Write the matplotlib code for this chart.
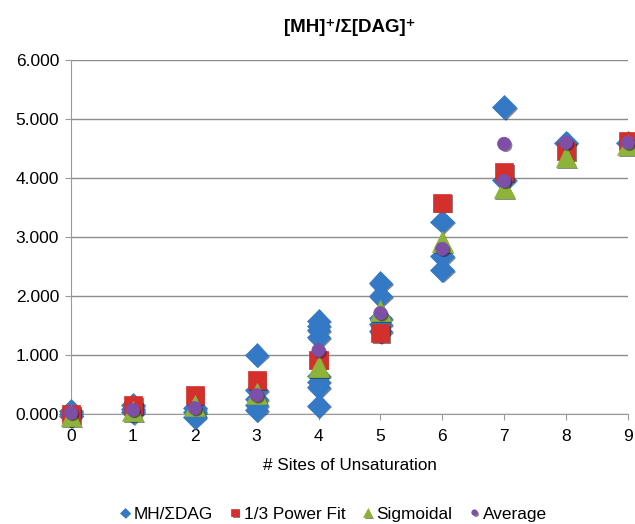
import matplotlib

matplotlib.use("Agg")

import matplotlib.pyplot as plt
import matplotlib.patheffects as pe
from matplotlib.ticker import FormatStrFormatter

plt.rcParams["font.family"] = ["Liberation Sans", "DejaVu Sans"]

# MH/ΣDAG measured ratios (several per unsaturation count)
mh_x = [0, 0, 0, 1, 1, 1, 2, 2, 2, 3, 3, 3, 3, 3,
        4, 4, 4, 4, 4, 4, 4, 4, 5, 5, 5, 5, 5, 6, 6, 6, 7, 7, 8, 9]
mh_y = [0.05, 0.0, -0.03, 0.15, 0.08, 0.03, 0.1, 0.03, -0.05,
        1.0, 0.4, 0.25, 0.15, 0.07,
        1.58, 1.5, 1.42, 1.3, 0.65, 0.55, 0.45, 0.14,
        2.22, 2.0, 1.62, 1.52, 1.4,
        3.26, 2.67, 2.44, 5.2, 3.97, 4.6, 4.6]

fit_x = [0, 1, 2, 3, 4, 5, 6, 7, 8, 9]
power_y = [0.0, 0.15, 0.32, 0.57, 0.92, 1.37, 3.58, 4.1, 4.45, 4.62]
sigmoid_y = [-0.03, 0.05, 0.15, 0.35, 0.8, 1.75, 2.92, 3.83, 4.36, 4.56]

avg_x = [0, 1, 2, 3, 4, 5, 6, 7, 7, 8, 9]
avg_y = [0.02, 0.07, 0.1, 0.32, 1.08, 1.71, 2.8, 4.58, 3.95, 4.6, 4.6]

shadow = [pe.SimplePatchShadow(offset=(1.2, -1.2), alpha=0.55), pe.Normal()]

fig = plt.figure(figsize=(6.35, 5.24), dpi=100)
ax = fig.add_axes([0.1118, 0.2099, 0.877, 0.6756])

series = [
    (mh_x, mh_y, "D", 12, "#3479C6", "MH/\u03a3DAG"),
    (fit_x, power_y, "s", 13, "#D3302B", "1/3 Power Fit"),
    (fit_x, sigmoid_y, "^", 15, "#8DB438", "Sigmoidal"),
    (avg_x, avg_y, "o", 9.5, "#7E4FA6", "Average"),
]
for xs, ys, marker, size, color, label in series:
    ax.plot(xs, ys, linestyle="none", marker=marker, markersize=size,
            color=color, markeredgecolor=color, markeredgewidth=0.5,
            label=label, clip_on=False, path_effects=shadow, zorder=3)

ax.set_xlim(0, 9)
ax.set_ylim(0, 6)
ax.set_xticks(range(10))
ax.set_yticks(range(7))
ax.yaxis.set_major_formatter(FormatStrFormatter("%.3f"))
ax.grid(axis="y", color="#8c8c8c", linewidth=1.0)
ax.set_axisbelow(True)
for side in ("top", "right"):
    ax.spines[side].set_visible(False)
for side in ("left", "bottom"):
    ax.spines[side].set_color("#9a9a9a")
ax.tick_params(axis="both", colors="#9a9a9a", labelcolor="black",
               labelsize=12.5, length=4)
ax.tick_params(axis="x", pad=7)
ax.tick_params(axis="y", pad=4.5)

ax.set_title("[MH]\u207a/\u03a3[DAG]\u207a", fontsize=13.5, fontweight="bold", pad=20)
ax.set_xlabel("# Sites of Unsaturation", fontsize=12.3, labelpad=10)

handles, labels = ax.get_legend_handles_labels()
fig.legend(handles, labels, loc="center", bbox_to_anchor=(0.525, 0.019),
           ncol=4, frameon=False, fontsize=12.4, markerscale=0.42,
           handlelength=0.6, handletextpad=0.2, columnspacing=1.0)

fig.savefig("out.png", dpi=100)
